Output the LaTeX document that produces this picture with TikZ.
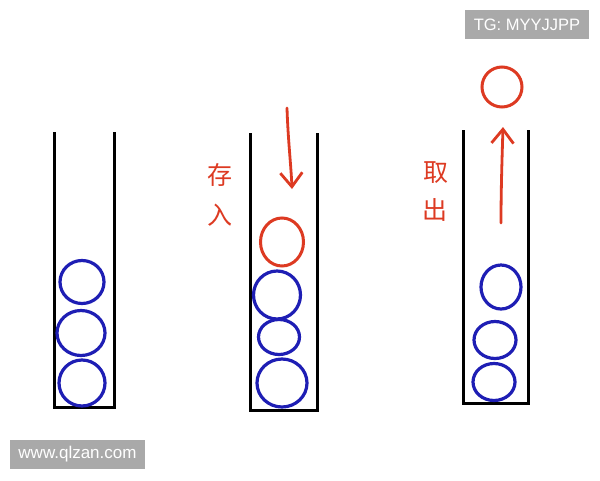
\documentclass[tikz,border=0pt]{standalone}
\usepackage{fontspec}
\setmainfont{Liberation Sans}
\newfontfamily\cjk{Noto Sans CJK SC}
\usetikzlibrary{shapes.geometric,arrows.meta}
\definecolor{inkred}{HTML}{DD3A22}
\definecolor{inkblue}{HTML}{1E1EB4}
\definecolor{wmgray}{HTML}{A9A9A9}
\tikzset{
  tube/.style={line width=3pt, black, line join=miter},
  ball/.style={ellipse, draw=inkblue, line width=3.2pt, inner sep=0pt},
  redball/.style={ellipse, draw=inkred, line width=3pt, inner sep=0pt},
  move/.style={draw=inkred, line width=2.8pt, line cap=round, -{Straight Barb[length=14pt,width=22pt,line width=2.8pt]}},
  lbl/.style={text=inkred, font=\cjk\fontsize{25}{27}\selectfont, inner sep=0pt},
  wm/.style={fill=wmgray, text=white, inner sep=0pt}
}
\begin{document}
\begin{tikzpicture}[x=1pt,y=-1pt]
\useasboundingbox[fill=white] (0,0) rectangle (600,480);
% tube 1
\draw[tube] (54,132) -- (54,407) -- (114,407) -- (114,132);
\node[ball, minimum width=44pt, minimum height=43pt] (a1) at (82,282) {};
\node[ball, minimum width=48pt, minimum height=45pt] (a2) at (81,333) {};
\node[ball, minimum width=46pt, minimum height=46pt] (a3) at (82,383) {};
% tube 2
\draw[tube] (250,133) -- (250,410) -- (317,410) -- (317,133);
\node[redball, minimum width=43pt, minimum height=48pt] (b0) at (282,242) {};
\node[ball, minimum width=47pt, minimum height=48pt] (b1) at (277,295) {};
\node[ball, minimum width=41pt, minimum height=35pt] (b2) at (279,337) {};
\node[ball, minimum width=50pt, minimum height=48pt] (b3) at (282,383) {};
\coordinate (bs) at (287,108);
\coordinate (bt) at (292,189);
\draw[move] (bs) .. controls (288,140) and (291,165) .. (bt);
\node[lbl] (l1) at (220,175) {存};
\node[lbl] (l2) at (220,215) {入};
% tube 3
\draw[tube] (463,130) -- (463,403) -- (528,403) -- (528,130);
\node[redball, minimum width=40pt, minimum height=40pt] (c0) at (502,87) {};
\node[ball, minimum width=40pt, minimum height=44pt] (c1) at (501,287) {};
\node[ball, minimum width=42pt, minimum height=37pt] (c2) at (495,340) {};
\node[ball, minimum width=42pt, minimum height=37pt] (c3) at (494,382) {};
\coordinate (cs) at (501,223);
\coordinate (ct) at (503,127);
\draw[move] (cs) .. controls (501,190) and (502,160) .. (ct);
\node[lbl] (m1) at (436,173) {取};
\node[lbl] (m2) at (435,210) {出};
% watermarks
\node[wm, minimum width=124pt, minimum height=29pt, font=\fontsize{16.5}{18}\selectfont] (w1) at (527,24.5) {TG: MYYJJPP};
\node[wm, minimum width=135pt, minimum height=29pt, font=\fontsize{17}{19}\selectfont] (w2) at (77.5,454.5) {www.qlzan.com};
\end{tikzpicture}
\end{document}
